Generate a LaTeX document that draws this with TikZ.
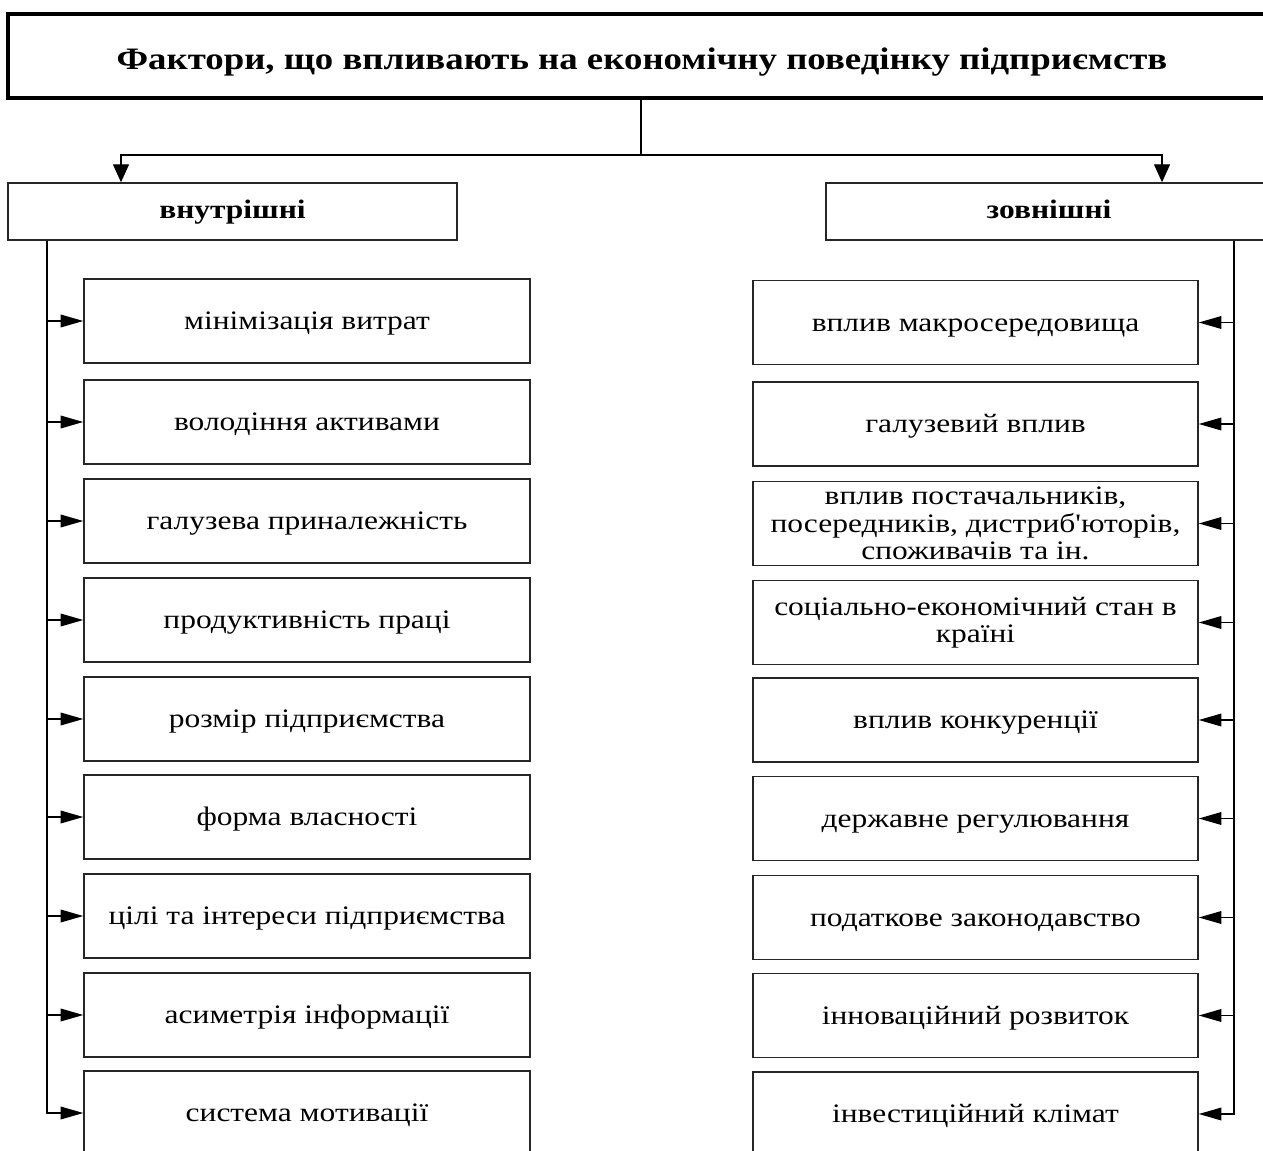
\documentclass[tikz,border=0pt]{standalone}
\usepackage{fontspec}
\setmainfont{Liberation Serif}[FakeStretch=1.18]
\newfontfamily\plainserif{Liberation Serif}[FakeStretch=1.18]
\usetikzlibrary{arrows.meta}
\begin{document}
\begin{tikzpicture}[x=0.75pt,y=-0.75pt,
  fbox/.style={draw=black!85, line width=1.1pt, rectangle, inner sep=0pt, align=center,
               font=\fontsize{20}{20.5}\selectfont},
  oneline/.style={text height=15pt, text depth=2pt},
  lbox/.style={fbox, minimum width=446*0.75pt, minimum height=84*0.75pt},
  rbox/.style={fbox, minimum width=445*0.75pt, minimum height=84*0.75pt},
  hbox/.style={fbox, minimum height=57*0.75pt, text height=13.5pt, text depth=2.5pt,
               font=\bfseries\fontsize{20}{22}\selectfont},
  conn/.style={line width=1.1pt, draw=black},
  sidearrow/.style={conn, -{Triangle[length=17pt,width=9.5pt]}},
  downarrow/.style={conn, -{Triangle[length=13.5pt,width=12pt]}}]
\useasboundingbox (0,0) rectangle (1263,1151);
\clip (0,0) rectangle (1263,1151);

% title
\node[draw=black, line width=2.4pt, rectangle, inner sep=0pt,
      minimum width=1268*0.75pt, minimum height=84*0.75pt,
      text height=22pt, text depth=1.5pt,
      font=\bfseries\fontsize{23.4}{26}\selectfont] (title) at (642,56)
  {Фактори, що впливають на економічну поведінку підприємств};

% group headers
\node[hbox, minimum width=449*0.75pt] (inner) at (232.5,211.5) {внутрішні};
\node[hbox, minimum width=446*0.75pt] (outer) at (1049,211.5) {зовнішні};

% left boxes
\node[lbox, oneline] (l1) at (307,321) {мінімізація витрат};
\node[lbox, oneline] (l2) at (307,422) {володіння активами};
\node[lbox, oneline] (l3) at (307,521) {галузева приналежність};
\node[lbox, oneline] (l4) at (307,620) {продуктивність праці};
\node[lbox, oneline] (l5) at (307,719) {розмір підприємства};
\node[lbox, oneline] (l6) at (307,817) {форма власності};
\node[lbox, oneline] (l7) at (307,916) {цілі та інтереси підприємства};
\node[lbox, oneline] (l8) at (307,1015) {асиметрія інформації};
\node[lbox, oneline] (l9) at (307,1113) {система мотивації};

% right boxes
\node[rbox, oneline] (r1) at (975.5,322.5) {вплив макросередовища};
\node[rbox, oneline] (r2) at (975.5,424) {галузевий вплив};
\node[rbox] (r3) at (975.5,523.5) {вплив постачальників,\\посередників, дистриб{\plainserif '}юторів,\\споживачів та ін.};
\node[rbox] (r4) at (975.5,622.5) {соціально-економічний стан в\\країні};
\node[rbox, oneline] (r5) at (975.5,720) {вплив конкуренції};
\node[rbox, oneline] (r6) at (975.5,818.5) {державне регулювання};
\node[rbox, oneline] (r7) at (975.5,917.5) {податкове законодавство};
\node[rbox, oneline] (r8) at (975.5,1015.5) {інноваційний розвиток};
\node[rbox, oneline] (r9) at (975.5,1114) {інвестиційний клімат};

% top connectors
\coordinate (split) at (641,155);
\coordinate (ia) at (121,155);
\coordinate (oa) at (1162,155);
\draw[conn] (title.south -| split) -- (split);
\draw[downarrow] (split) -- (ia) -- (ia |- inner.north);
\draw[downarrow] (split) -- (oa) -- (oa |- outer.north);

% left trunk
\coordinate (lt) at (47,240);
\draw[sidearrow] (lt |- inner.south) |- (l9.west);
\foreach \i in {1,...,8} {
  \draw[sidearrow] (lt |- l\i.west) -- (l\i.west);
}

% right trunk
\coordinate (rt) at (1234,240);
\draw[sidearrow] (rt |- outer.south) |- (r9.east);
\foreach \i in {1,...,8} {
  \draw[sidearrow] (rt |- r\i.east) -- (r\i.east);
}
\end{tikzpicture}
\end{document}
